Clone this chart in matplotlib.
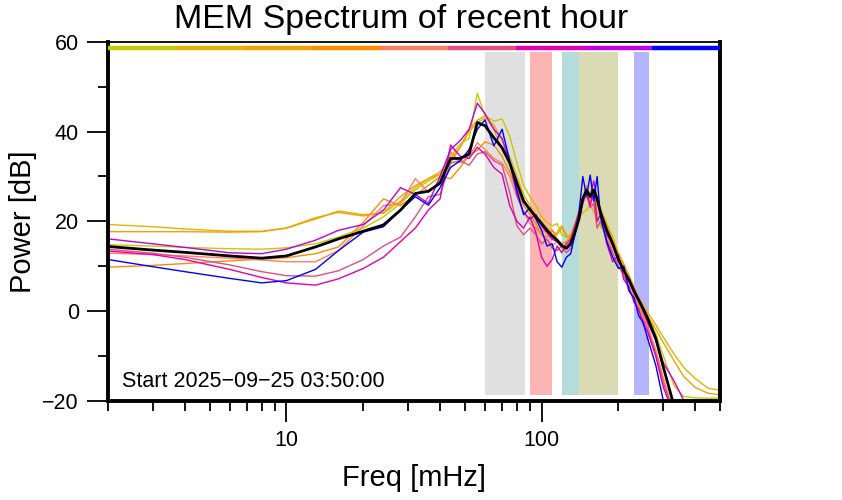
import numpy as np
import matplotlib
matplotlib.use("Agg")
import matplotlib.pyplot as plt

plt.rcParams['font.family'] = ['Liberation Sans', 'DejaVu Sans']

# frequency grid in mHz
freq = [2, 3, 4, 6, 8, 10, 13, 16, 20, 24, 28, 32, 36, 40, 44, 48, 52, 56, 60, 65,
        70, 75, 80, 85, 90, 95, 100, 105, 110, 115, 120, 125, 130, 135, 140, 145, 150, 155,
        160, 165, 170, 180, 190, 200, 210, 220, 230, 240, 250, 260, 280, 300, 330, 360,
        400, 450, 500]

nan = np.nan

# spectra of the hour, oldest first (dB)
spec_1 = [14.8, 14.5, 14.2, 13.9, 13.8, 14.1, 15.0, 16.5, 18.5, 21.0, 24.0, 27.0, 29.0, 30.5,
          34.5, 37.2, 38.5, 48.5, 43.5, 42.3, 42.8, 39.0, 33.0, 28.0, 25.5, 23.5, 21.0, 19.8,
          19.0, 19.5, 17.0, 16.5, 16.0, 18.0, 20.5, 22.0, 22.5, 24.0, 22.0, 21.5, 19.0, 17.0,
          14.0, 12.0, 9.0, 7.5, 5.0, 3.0, 1.0, -1.0, -5.0, -10.0, -16.5, -19.0, -19.3, -19.4, -19.3]
spec_2 = [19.3, 18.8, 18.3, 17.8, 17.8, 18.5, 20.5, 22.3, 21.5, 21.8, 24.5, 27.5, 29.5, 31.0,
          34.0, 36.5, 40.0, 42.0, 43.0, 41.5, 38.0, 34.5, 30.0, 26.0, 23.5, 21.5, 20.0, 18.5,
          18.0, 17.0, 18.5, 16.5, 17.0, 19.5, 22.0, 25.0, 26.5, 25.0, 26.0, 24.5, 23.0, 19.5,
          16.5, 12.5, 10.0, 7.5, 5.0, 3.0, 1.5, -0.3, -3.0, -5.8, -9.5, -12.5, -15.0, -17.2, -17.6]
spec_3 = [17.7, 17.7, 17.7, 17.6, 17.7, 18.5, 20.8, 22.0, 21.2, 22.0, 25.5, 28.0, 29.5, 30.5,
          33.0, 36.5, 40.5, 42.5, 43.5, 40.5, 36.0, 33.0, 29.5, 25.0, 22.5, 20.5, 18.0, 17.5,
          16.0, 17.5, 19.0, 17.0, 16.5, 19.0, 22.5, 25.5, 26.0, 24.5, 25.5, 23.5, 22.5, 19.0,
          16.0, 13.0, 10.5, 8.0, 5.5, 3.0, 1.0, -1.0, -4.0, -7.0, -11.0, -14.5, -17.0, -18.3, -18.6]
spec_4 = [9.8, 10.2, 10.6, 11.2, 11.6, 11.9, 12.8, 14.3, 19.8, 25.0, 23.5, 25.8, 28.0, 30.0,
          29.5, 32.0, 34.8, 35.8, 37.7, 37.0, 34.5, 31.0, 27.0, 23.5, 21.5, 19.5, 17.0, 16.5,
          18.0, 16.0, 15.0, 15.5, 16.5, 19.0, 22.0, 24.5, 25.5, 24.0, 27.0, 24.0, 22.0, 18.5,
          15.0, 12.0, 9.0, 6.5, 4.0, 1.5, -1.0, -3.5, -9.0, -15.0, -23.0, nan, nan, nan, nan]
spec_5 = [12.9, 12.6, 12.3, 11.8, 11.4, 11.0, 11.0, 13.5, 19.0, 23.5, 24.0, 29.5, 26.5, 29.0,
          35.5, 33.0, 34.5, 37.5, 36.0, 34.0, 33.0, 30.0, 25.5, 22.0, 19.5, 18.5, 17.0, 16.0,
          14.5, 15.5, 14.0, 15.0, 14.5, 17.5, 21.0, 25.0, 28.0, 24.0, 26.0, 22.0, 21.5, 17.5,
          14.0, 11.5, 8.0, 6.5, 3.5, 1.0, -1.5, -3.5, -8.5, -15.0, -23.0, nan, nan, nan, nan]
spec_6 = [13.8, 12.9, 12.0, 10.3, 8.8, 7.9, 7.8, 9.0, 11.5, 14.5, 16.5, 21.0, 25.5, 26.0,
          33.0, 33.5, 32.5, 35.0, 35.5, 33.5, 32.5, 26.5, 19.0, 17.0, 18.5, 17.0, 15.0, 16.0,
          14.0, 13.5, 14.5, 13.0, 14.0, 17.0, 20.5, 24.0, 26.0, 23.0, 24.0, 18.5, 20.0, 16.0,
          13.0, 10.0, 8.0, 4.5, 3.0, 0.0, -2.0, -4.0, -9.5, -16.0, -23.0, nan, nan, nan, nan]
spec_7 = [13.4, 12.6, 11.5, 9.3, 7.5, 6.3, 5.8, 7.2, 9.5, 12.0, 15.5, 18.5, 22.5, 25.0,
          37.0, 34.5, 34.0, 36.5, 35.0, 32.0, 30.5, 23.5, 20.0, 18.5, 21.0, 17.5, 12.0, 10.0,
          11.5, 14.5, 13.0, 15.0, 16.0, 19.0, 22.0, 25.5, 26.5, 23.5, 27.0, 20.0, 21.5, 15.0,
          11.0, 12.5, 7.0, 5.5, 2.0, 0.5, -3.0, -4.5, -10.0, -17.0, -23.0, nan, nan, nan, nan]
spec_8 = [16.1, 15.0, 14.2, 13.0, 12.8, 13.8, 15.8, 18.0, 19.3, 22.5, 27.5, 26.0, 24.0, 30.0,
          36.0, 38.0, 40.5, 46.3, 44.0, 40.5, 38.5, 33.0, 26.0, 22.0, 20.5, 21.5, 19.0, 17.5,
          16.0, 15.5, 14.5, 14.0, 15.5, 18.0, 21.0, 25.0, 27.0, 25.5, 29.0, 25.0, 22.5, 17.0,
          15.0, 11.0, 9.5, 6.5, 5.0, 2.5, 0.0, -2.5, -6.5, -11.5, -15.5, -19.8, -24.0, nan, nan]
spec_9 = [11.5, 9.9, 8.8, 7.3, 6.3, 6.8, 9.3, 13.5, 17.6, 18.8, 22.5, 25.5, 23.6, 27.5,
          32.0, 33.5, 36.0, 40.5, 42.6, 36.8, 40.5, 33.5, 27.0, 21.5, 23.0, 20.5, 18.0, 14.5,
          15.0, 11.0, 9.8, 12.0, 12.8, 17.0, 21.8, 30.0, 25.5, 30.3, 24.5, 30.0, 21.0, 15.5,
          12.0, 9.5, 10.0, 4.5, 3.0, -1.0, -2.5, -6.0, -12.0, -20.0, -25.0, nan, nan, nan, nan]
spec_mean = [14.4, 13.6, 13.1, 12.3, 11.8, 12.3, 14.3, 16.1, 17.8, 19.2, 22.5, 26.2, 26.7, 28.5,
             34.0, 34.0, 35.0, 42.0, 41.3, 38.6, 36.4, 33.0, 28.5, 24.5, 22.6, 21.0, 19.5, 18.0,
             16.8, 15.8, 14.6, 14.0, 15.0, 17.5, 20.5, 25.0, 27.0, 25.5, 27.0, 25.0, 22.0, 18.0,
             15.0, 11.5, 9.0, 7.0, 4.5, 2.5, 0.5, -1.5, -6.0, -12.5, -21.0, nan, nan, nan, nan]

spectra = [spec_1, spec_2, spec_3, spec_4, spec_5, spec_6, spec_7, spec_8, spec_9]
colors = ['#c8c800', '#e0b400', '#f5a000', '#ff8c00', '#ff7f66',
          '#e0507c', '#e000b4', '#c000e0', '#0000ff']

# frequency bands (mHz)
band_lo = [60, 90, 120, 140.5, 230]
band_hi = [86, 110, 139.5, 200, 263]
band_colors = ['#e0e0e0', '#ffb4b4', '#b4dcdc', '#dadab4', '#b4b4ff']

start_label = 'Start 2025\u221209\u221225 03:50:00'

fig = plt.figure(figsize=(8.42, 5.0), dpi=100)
ax = fig.add_axes([108 / 842, 99 / 500, 612 / 842, 359.3 / 500])
ax.set_xscale('log')
ax.set_xlim(2, 500)
ax.set_ylim(-20, 60)

for lo, hi, c in zip(band_lo, band_hi, band_colors):
    ax.axvspan(lo, hi, ymin=0.016, ymax=0.972, color=c, lw=0, zorder=0)

for s, c in zip(spectra, colors):
    ax.plot(freq, s, color=c, lw=1.0, zorder=2)
ax.plot(freq, spec_mean, color='black', lw=2.0, zorder=3)

# colour key along the top
edges = np.geomspace(2, 500, len(colors) + 1)
for k, c in enumerate(colors):
    ax.plot([edges[k], edges[k + 1]], [58.6, 58.6], color=c, lw=3.2,
            solid_capstyle='butt', zorder=4)

fig.text(122 / 842, 1 - 387 / 500, start_label, fontsize=15.5, va='baseline', ha='left')

ax.set_xticks([10, 100])
ax.set_xticklabels(['10', '100'])
minors = [2, 3, 4, 5, 6, 7, 8, 9, 20, 30, 40, 50, 60, 70, 80, 90, 200, 300, 400, 500]
ax.set_xticks(minors, minor=True)
ax.set_xticklabels([''] * len(minors), minor=True)
ax.set_yticks([-20, 0, 20, 40, 60])
ax.set_yticks([-10, 10, 30, 50], minor=True)

ax.tick_params(which='major', direction='out', length=15, width=1.3, labelsize=15.5, pad=6)
ax.tick_params(which='minor', direction='out', length=7.5, width=1.3)

for side in ['left', 'bottom', 'right']:
    ax.spines[side].set_linewidth(2.8)
ax.spines['top'].set_linewidth(1.3)

ax.set_xlabel('Freq [mHz]', fontsize=21, labelpad=9)
ax.set_ylabel('Power [dB]', fontsize=21, labelpad=4)
fig.text(401 / 842, 1 - 28 / 500, 'MEM Spectrum of recent hour', fontsize=24.5,
         ha='center', va='baseline')

fig.savefig('out.png', dpi=100)
